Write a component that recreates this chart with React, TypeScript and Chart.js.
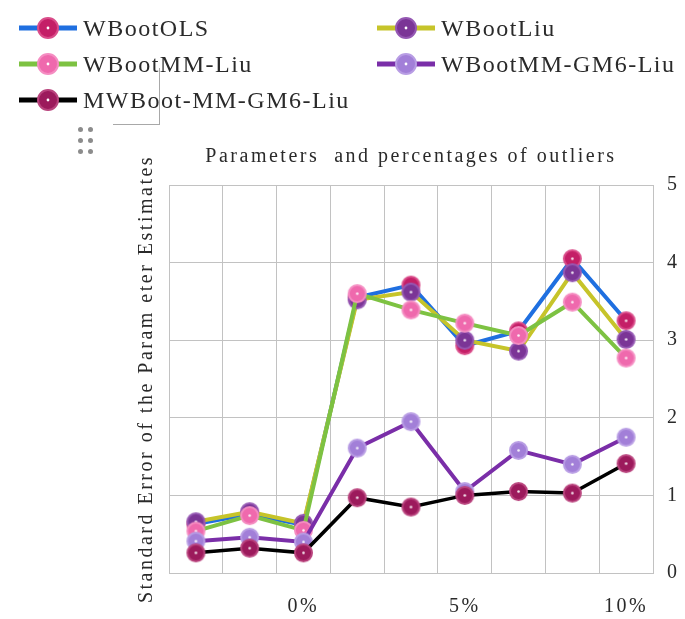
import React, { useEffect, useRef } from "react";
import { Chart, registerables } from "chart.js";

Chart.register(...registerables);

// x categories: three parameters at each outlier percentage; only the percentage is printed
const categories = ["", "", "0%", "", "", "5%", "", "", "10%"];

// standard errors per method
const wbootOLS = [0.63, 0.76, 0.62, 3.55, 3.71, 2.93, 3.12, 4.05, 3.25];
const wbootLiu = [0.66, 0.79, 0.64, 3.52, 3.62, 3.0, 2.86, 3.87, 3.01];
const wbootMMLiu = [0.54, 0.74, 0.55, 3.6, 3.39, 3.22, 3.06, 3.49, 2.77];
const wbootMMGM6Liu = [0.41, 0.46, 0.4, 1.61, 1.95, 1.05, 1.58, 1.4, 1.75];
const mwbootMMGM6Liu = [0.26, 0.32, 0.26, 0.97, 0.85, 1.0, 1.05, 1.03, 1.41];

const seriesNames = [
  "WBootOLS",
  "WBootLiu",
  "WBootMM-Liu",
  "WBootMM-GM6-Liu",
  "MWBoot-MM-GM6-Liu",
];
const seriesValues = [wbootOLS, wbootLiu, wbootMMLiu, wbootMMGM6Liu, mwbootMMGM6Liu];

const yMin = 0;
const yMax = 5;
const yStep = 1;

const chartTitle = "Parameters  and percentages of outliers";
const yTitle = "Standard Error of the Param eter Estimates";

const lineColors = ["#1f6fe0", "#c6c42a", "#7dc242", "#7a2ea8", "#000000"];
const lineWidths = [4, 4, 4, 4, 3.5];
const markerFills = ["#c41f67", "#7b3596", "#ef69ad", "#a27fd8", "#9c1a5c"];
const markerRings = ["#da4d8a", "#9558b3", "#f58dc2", "#b89de4", "#b9437d"];

const SERIF = "'Liberation Serif', 'Times New Roman', serif";
const TEXT = "#2a2a2a";
const GRID = "#c2c2c2";

function makeMarker(fill: string, ring: string, r: number): HTMLCanvasElement {
  const size = Math.ceil(r * 2 + 4);
  const c = document.createElement("canvas");
  c.width = size;
  c.height = size;
  const ctx = c.getContext("2d")!;
  const m = size / 2;
  ctx.beginPath();
  ctx.arc(m, m, r, 0, Math.PI * 2);
  ctx.fillStyle = fill;
  ctx.fill();
  ctx.lineWidth = 2;
  ctx.strokeStyle = ring;
  ctx.stroke();
  ctx.beginPath();
  ctx.arc(m, m, 1.3, 0, Math.PI * 2);
  ctx.fillStyle = "rgba(255,255,255,0.9)";
  ctx.fill();
  return c;
}

const spacingPlugin = {
  id: "letterSpacing",
  beforeLayout(chart: any) {
    chart.ctx.letterSpacing = "2.5px";
  },
  beforeDraw(chart: any) {
    chart.ctx.letterSpacing = "2.5px";
  },
};

function LegendItem({ i, x, y }: { i: number; x: number; y: number }) {
  return (
    <div style={{ position: "absolute", left: x, top: y - 16, height: 32, display: "flex", alignItems: "center" }}>
      <svg width={62} height={32} style={{ display: "block" }}>
        <line x1={2} y1={16} x2={60} y2={16} stroke={lineColors[i]} strokeWidth={5} />
        <circle cx={31} cy={16} r={10} fill={markerFills[i]} stroke={markerRings[i]} strokeWidth={2} />
        <circle cx={31} cy={16} r={1.4} fill="#fff" />
      </svg>
      <span
        style={{
          marginLeft: 4,
          fontFamily: SERIF,
          fontSize: 24,
          letterSpacing: "1.5px",
          color: TEXT,
          lineHeight: "32px",
          whiteSpace: "nowrap",
        }}
      >
        {seriesNames[i]}
      </span>
    </div>
  );
}

export default function App() {
  const canvasRef = useRef<HTMLCanvasElement | null>(null);

  useEffect(() => {
    const canvas = canvasRef.current;
    if (!canvas) return;
    const datasets = seriesValues.map((values, i) => ({
      label: seriesNames[i],
      data: values,
      borderColor: lineColors[i],
      backgroundColor: markerFills[i],
      borderWidth: lineWidths[i],
      tension: 0,
      pointStyle: makeMarker(markerFills[i], markerRings[i], 8.5),
      pointRadius: 9,
      pointHoverRadius: 9,
      order: seriesValues.length - i,
      yAxisID: "y",
    }));

    const chart = new Chart(canvas, {
      type: "line",
      data: { labels: categories, datasets },
      plugins: [spacingPlugin],
      options: {
        animation: false,
        responsive: false,
        devicePixelRatio: 1,
        layout: { padding: { left: 135, right: 5, top: 145, bottom: 0 } },
        plugins: {
          legend: { display: false },
          tooltip: { enabled: false },
          title: {
            display: true,
            text: chartTitle,
            fullSize: false,
            color: TEXT,
            font: { family: SERIF, size: 20, weight: "normal" },
            padding: { top: 0, bottom: 16 },
          },
        },
        scales: {
          x: {
            offset: true,
            grid: { offset: true, color: GRID, lineWidth: 1, drawTicks: false },
            border: { color: GRID },
            afterFit(scale: any) {
              scale.height = 46;
            },
            ticks: {
              autoSkip: false,
              maxRotation: 0,
              minRotation: 0,
              padding: 22,
              color: TEXT,
              font: { family: SERIF, size: 20 },
            },
          },
          y: {
            position: "right",
            min: yMin,
            max: yMax,
            grid: { color: GRID, lineWidth: 1, drawTicks: false },
            border: { color: GRID },
            afterFit(scale: any) {
              scale.width = 27;
            },
            ticks: {
              stepSize: yStep,
              padding: 14,
              color: TEXT,
              font: { family: SERIF, size: 20 },
            },
          },
          yTitle: {
            type: "linear",
            position: "left",
            min: yMin,
            max: yMax,
            grid: { display: false, drawTicks: false },
            border: { display: false },
            ticks: { display: false },
            afterFit(scale: any) {
              scale.width = 34;
            },
            title: {
              display: true,
              text: yTitle,
              color: TEXT,
              font: { family: SERIF, size: 20 },
              padding: { top: 0, bottom: 10 },
            },
          },
        },
      },
    } as any);

    return () => chart.destroy();
  }, []);

  return (
    <div style={{ position: "absolute", left: 0, top: 0, width: 685, height: 619, background: "#fff", overflow: "hidden" }}>
      <canvas ref={canvasRef} width={685} height={619} style={{ position: "absolute", left: 0, top: 0, width: 685, height: 619 }} />
      {/* selection bracket and drag handle left over in the document */}
      <div style={{ position: "absolute", left: 159, top: 68, width: 1, height: 57, background: "#a8a8a8" }} />
      <div style={{ position: "absolute", left: 113, top: 124, width: 47, height: 1, background: "#a8a8a8" }} />
      {[0, 1, 2].map((r) =>
        [0, 1].map((c) => (
          <div
            key={`${r}-${c}`}
            style={{
              position: "absolute",
              left: 78 + c * 10,
              top: 127 + r * 11,
              width: 5,
              height: 5,
              borderRadius: "50%",
              background: "#8c8c8c",
            }}
          />
        ))
      )}
      <LegendItem i={0} x={17} y={28} />
      <LegendItem i={1} x={375} y={28} />
      <LegendItem i={2} x={17} y={64} />
      <LegendItem i={3} x={375} y={64} />
      <LegendItem i={4} x={17} y={100} />
    </div>
  );
}
